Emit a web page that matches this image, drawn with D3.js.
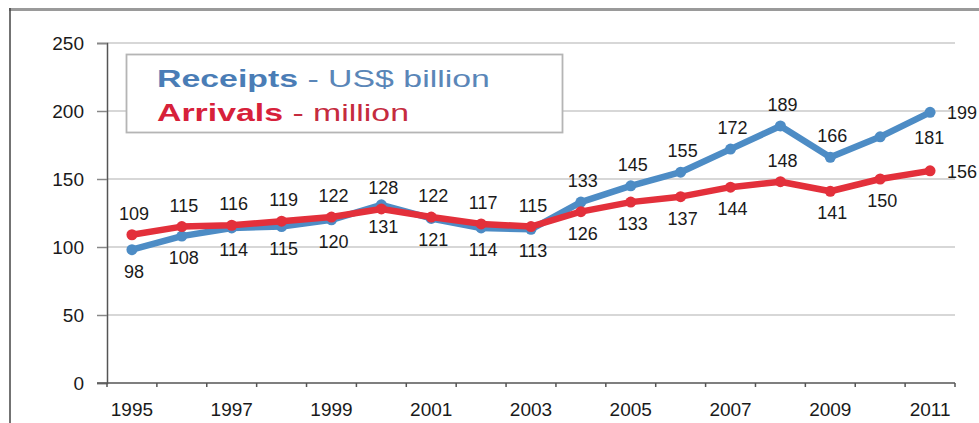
<!DOCTYPE html>
<html>
<head>
<meta charset="utf-8">
<script src="https://cdn.jsdelivr.net/npm/d3@7"></script>
<style>
  html, body { margin: 0; padding: 0; background: #fff; }
  svg { display: block; font-family: "Liberation Sans", Arial, sans-serif; }
</style>
</head>
<body>
<svg id="chart" width="979" height="423"></svg>
<script>
// International tourism, Americas: receipts (US$ billion) and arrivals (million)
const years = [1995, 1996, 1997, 1998, 1999, 2000, 2001, 2002, 2003,
               2004, 2005, 2006, 2007, 2008, 2009, 2010, 2011];
const receipts = [98, 108, 114, 115, 120, 131, 121, 114, 113,
                  133, 145, 155, 172, 189, 166, 181, 199];
const arrivals = [109, 115, 116, 119, 122, 128, 122, 117, 115,
                  126, 133, 137, 144, 148, 141, 150, 156];
const yTicks = [0, 50, 100, 150, 200, 250];
const xLabelYears = [1995, 1997, 1999, 2001, 2003, 2005, 2007, 2009, 2011];

// Where each value label sits relative to its point: a = above, b = below, r = right
const receiptsLabelSide = ["b","b","b","b","b","b","b","b","b",
                           "a","a","a","a","a","a","rb","r"];
const arrivalsLabelSide = ["a","a","a","a","a","a","a","a","a",
                           "b","b","b","b","a","b","b","r"];

const blue = "#4d8cc5";
const red = "#e3303b";

const svg = d3.select("#chart");

// outer frame
svg.append("line").attr("x1", 9).attr("x2", 979).attr("y1", 9.5).attr("y2", 9.5)
  .attr("stroke", "#9a9a9a").attr("stroke-width", 3);
svg.append("line").attr("x1", 10).attr("x2", 10).attr("y1", 8).attr("y2", 423)
  .attr("stroke", "#444").attr("stroke-width", 1.5);

const plot = { left: 107, right: 955, top: 43, bottom: 383 };

const x = d3.scaleBand().domain(years).range([plot.left, plot.right]).padding(0);
const y = d3.scaleLinear().domain([0, 250]).range([plot.bottom, plot.top]);
const cx = d => x(d) + x.bandwidth() / 2;

// horizontal gridlines
svg.append("g").selectAll("line").data(yTicks.filter(t => t > 0)).join("line")
  .attr("x1", plot.left).attr("x2", plot.right)
  .attr("y1", d => y(d)).attr("y2", d => y(d))
  .attr("stroke", "#cacaca").attr("stroke-width", 1.5);

// y axis
const yAxis = svg.append("g").attr("transform", `translate(${plot.left},0)`)
  .call(d3.axisLeft(y).tickValues(yTicks).tickSize(10).tickPadding(13));
yAxis.select(".domain").attr("stroke", "#555").attr("stroke-width", 1.5);
yAxis.selectAll(".tick line").attr("stroke", "#888").attr("stroke-width", 1.5);
yAxis.selectAll(".tick text").attr("font-size", 19).attr("fill", "#1a1a1a")
  .attr("font-family", "Liberation Sans, Arial, sans-serif");

// x axis: labels at category centres, tick marks on category boundaries
const xAxis = svg.append("g").attr("transform", `translate(0,${plot.bottom})`)
  .call(d3.axisBottom(x).tickValues(xLabelYears).tickSize(0).tickPadding(20));
xAxis.select(".domain").remove();
xAxis.selectAll(".tick text").attr("font-size", 19).attr("fill", "#1a1a1a")
  .attr("font-family", "Liberation Sans, Arial, sans-serif");
svg.append("line").attr("x1", plot.left - 10).attr("x2", plot.right)
  .attr("y1", plot.bottom).attr("y2", plot.bottom)
  .attr("stroke", "#555").attr("stroke-width", 1.5);
svg.append("g").selectAll("line").data(years.concat([null])).join("line")
  .attr("x1", d => d === null ? plot.right : x(d))
  .attr("x2", d => d === null ? plot.right : x(d))
  .attr("y1", plot.bottom).attr("y2", plot.bottom + 4)
  .attr("stroke", "#555").attr("stroke-width", 1.5);

// legend
const lg = svg.append("g");
lg.append("rect").attr("x", 126.5).attr("y", 54.5).attr("width", 436).attr("height", 78)
  .attr("fill", "#fff").attr("stroke", "#b5b5b5").attr("stroke-width", 1.8);
function legendLine(yb, strong, rest, c1, c2) {
  const t = lg.append("text")
    .attr("transform", `translate(157,${yb}) scale(1.44,1)`)
    .attr("font-size", 23.5);
  t.append("tspan").attr("font-weight", "bold").attr("fill", c1).text(strong);
  t.append("tspan").attr("fill", c2).text(rest);
}
legendLine(87, "Receipts", " - US$ billion", "#4a7db6", "#5a86b8");
legendLine(121, "Arrivals", " - million", "#d7213a", "#c52b3e");

// series lines and markers
const line = d3.line().x((d, i) => cx(years[i])).y(d => y(d));
function drawSeries(vals, color) {
  svg.append("path").datum(vals).attr("d", line)
    .attr("fill", "none").attr("stroke", color).attr("stroke-width", 6.5)
    .attr("stroke-linejoin", "round").attr("stroke-linecap", "round");
  svg.append("g").selectAll("circle").data(vals).join("circle")
    .attr("cx", (d, i) => cx(years[i])).attr("cy", d => y(d)).attr("r", 5.5)
    .attr("fill", color);
}
drawSeries(receipts, blue);
drawSeries(arrivals, red);

// value labels
function drawLabels(vals, sides) {
  svg.append("g").selectAll("text").data(vals).join("text")
    .attr("font-size", 18).attr("fill", "#1a1a1a")
    .attr("text-anchor", (d, i) => sides[i].startsWith("r") ? "start" : "middle")
    .attr("dominant-baseline", "central")
    .attr("x", (d, i) => {
      const s = sides[i];
      if (s === "r") return cx(years[i]) + 17;
      if (s === "rb") return cx(years[i]) + 34;
      return cx(years[i]) + 2;
    })
    .attr("y", (d, i) => {
      const s = sides[i];
      if (s === "a") return y(d) - 21;
      if (s === "b") return y(d) + 22;
      return y(d) + 1;
    })
    .text(d => d);
}
drawLabels(receipts, receiptsLabelSide);
drawLabels(arrivals, arrivalsLabelSide);
</script>
</body>
</html>
